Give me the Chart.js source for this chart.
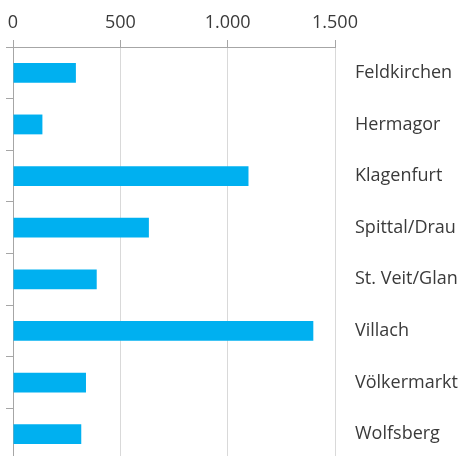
<!DOCTYPE html>
<html>
<head>
<meta charset="utf-8">
<script src="https://cdn.jsdelivr.net/npm/chart.js@4/dist/chart.umd.min.js"></script>
<style>
html,body{margin:0;padding:0;overflow:hidden;background:#fff;}
canvas{display:block;}
</style>
</head>
<body>
<canvas id="c" width="464" height="460" style="width:464px;height:460px;"></canvas>
<script>
const categories = ['Feldkirchen','Hermagor','Klagenfurt','Spittal/Drau','St. Veit/Glan','Villach','Völkermarkt','Wolfsberg'];
const values = [293, 137, 1097, 633, 390, 1399, 340, 318];
const xTickValues = [0, 500, 1000, 1500];
const xTickLabels = ['0', '500', '1.000', '1.500'];

const FONT = {family: 'Open Sans', size: 18};
const TEXT = '#3a3a3a';

new Chart(document.getElementById('c'), {
  type: 'bar',
  data: {
    labels: categories,
    datasets: [{
      data: values,
      backgroundColor: '#00B0F0',
      borderWidth: 0,
      barPercentage: 0.48,
      categoryPercentage: 0.8
    }]
  },
  options: {
    indexAxis: 'y',
    responsive: false,
    animation: false,
    devicePixelRatio: 1,
    layout: {padding: 0},
    plugins: {legend: {display: false}, tooltip: {enabled: false}},
    scales: {
      x: {
        position: 'top',
        min: 0,
        max: 1500,
        afterBuildTicks: (s) => { s.ticks = xTickValues.map(v => ({value: v})); },
        afterFit: (s) => { s.height = 47; },
        ticks: {
          font: FONT,
          color: TEXT,
          padding: 6,
          maxRotation: 0,
          callback: (v) => { const i = xTickValues.indexOf(v); return i >= 0 ? xTickLabels[i] : ''; }
        },
        grid: {color: '#d9d9d9', tickColor: '#a6a6a6', tickLength: 7, lineWidth: 1},
        border: {color: '#a6a6a6'}
      },
      y: {
        position: 'left',
        afterFit: (s) => { s.width = 13; },
        ticks: {display: false},
        grid: {drawOnChartArea: false, tickColor: '#a6a6a6', tickLength: 7, offset: true},
        border: {color: '#a6a6a6'}
      },
      y2: {
        axis: 'y',
        type: 'category',
        position: 'right',
        offset: true,
        afterFit: (s) => { s.width = 129; s.paddingTop = 0; s.paddingBottom = 0; },
        ticks: {font: FONT, color: TEXT, padding: 20, crossAlign: 'near'},
        grid: {display: false, drawTicks: false, tickLength: 0},
        border: {display: false}
      }
    }
  }
});
</script>
</body>
</html>
